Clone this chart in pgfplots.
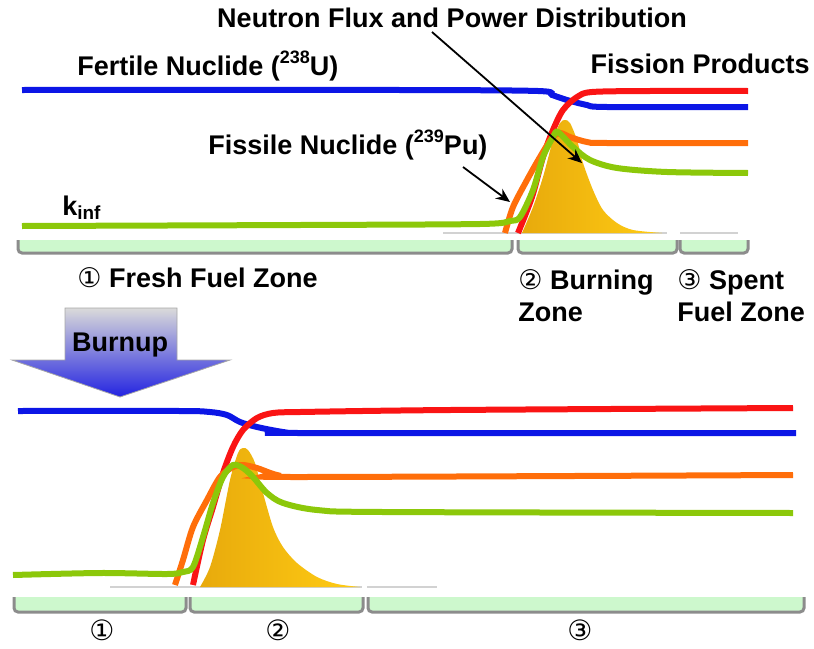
\documentclass[border=0pt]{standalone}
\usepackage{pgfplots}
\pgfplotsset{compat=1.18}
\usetikzlibrary{arrows.meta}
\usepackage{fontspec}
\setmainfont{Liberation Sans}
\newfontfamily\sym{DejaVu Sans}

\definecolor{cblue}{RGB}{12,22,230}
\definecolor{cred}{RGB}{250,20,20}
\definecolor{corange}{RGB}{255,110,10}
\definecolor{cgreen}{RGB}{140,200,10}
\definecolor{ydark}{RGB}{232,170,12}
\definecolor{ylight}{RGB}{255,204,20}
\definecolor{boxfill}{RGB}{205,248,205}
\definecolor{boxline}{RGB}{140,140,140}

\tikzset{
  curve/.style={line width=3pt, smooth, tension=0.5},
  zbox/.style={fill=boxfill, draw=none},
  zedge/.style={boxline, line width=1.5pt, rounded corners=2pt},
  lbl/.style={font=\fontsize{13.5}{16}\selectfont\bfseries, inner sep=0pt},
  num/.style={font=\sym\fontsize{14}{16}\selectfont, inner sep=0pt},
}
\newcommand{\iso}[1]{\raisebox{0.45em}{\fontsize{9}{10}\selectfont #1}}

\begin{document}
\begin{tikzpicture}
\begin{axis}[
  scale only axis, width=407pt, height=324pt,
  xmin=0, xmax=814, ymin=0, ymax=648, y dir=reverse,
  hide axis, clip=false,
]
\addplot[draw=none] coordinates {(0,0) (814,648)};

% ---------- upper panel ----------
% zone boxes
\addplot[zbox] coordinates {(18,240) (512,240) (512,253) (18,253)} --cycle;
\addplot[zbox] coordinates {(518,240) (677,240) (677,253) (518,253)} --cycle;
\addplot[zbox] coordinates {(680,240) (748,240) (748,253) (680,253)} --cycle;
\addplot[zedge] coordinates {(18,240) (18,253) (512,253) (512,240)};
\addplot[zedge] coordinates {(518,240) (518,253) (677,253) (677,240)};
\addplot[zedge] coordinates {(680,240) (680,253) (748,253) (748,240)};
\addplot[gray!35, line width=0.7pt] coordinates {(443,233) (667,233)};
\addplot[gray!35, line width=0.7pt] coordinates {(680,233) (738,233)};

% power distribution
\addplot[draw=none, left color=ydark, right color=ylight, smooth, tension=0.5]
  coordinates {(522,233) (533,207) (543,177) (553,140) (560,123) (565,120)
               (570,123) (577,140) (583,163) (593,190) (603,210) (617,223)
               (633,230) (662,233)} --cycle;

\addplot[curve, cblue] coordinates {(22,90) (400,90) (538,91) (552,95) (567,100)
  (587,105) (607,107) (748,107)};
\addplot[curve, cred] coordinates {(518,233) (532,197) (543,157) (553,130)
  (563,110) (577,97) (592,92) (650,91) (748,91)};
\addplot[curve, corange] coordinates {(505,233) (513,207) (527,180) (540,157)
  (552,138) (560,133) (570,137) (587,142) (607,143) (748,143)};
\addplot[curve, cgreen] coordinates {(22,226) (300,225) (480,224) (510,221)
  (520,217) (533,190) (543,157) (553,137) (558,132) (573,147) (590,160)
  (617,168) (667,172) (748,173)};

% ---------- lower panel ----------
\addplot[zbox] coordinates {(14,597) (186,597) (186,612) (14,612)} --cycle;
\addplot[zbox] coordinates {(190,597) (363,597) (363,612) (190,612)} --cycle;
\addplot[zbox] coordinates {(368,597) (804,597) (804,612) (368,612)} --cycle;
\addplot[zedge] coordinates {(14,597) (14,612) (186,612) (186,597)};
\addplot[zedge] coordinates {(190,597) (190,612) (363,612) (363,597)};
\addplot[zedge] coordinates {(368,597) (368,612) (804,612) (804,597)};
\addplot[gray!35, line width=0.7pt] coordinates {(110,587) (362,587)};
\addplot[gray!35, line width=0.7pt] coordinates {(367,587) (437,587)};

\addplot[draw=none, left color=ydark, right color=ylight, smooth, tension=0.5]
  coordinates {(200,587) (210,567) (220,530) (230,480) (238,453) (243,448)
               (248,450) (255,463) (263,493) (273,527) (283,547) (297,563)
               (317,577) (337,584) (360,587)} --cycle;

\addplot[curve, cblue] coordinates {(18,411) (180,411) (210,412) (227,415)
  (240,422) (257,427) (283,432) (300,433) (796,433)};
\addplot[curve, cred] coordinates {(193,585) (203,540) (213,507) (223,473)
  (233,447) (243,430) (257,418) (273,413) (300,412) (450,410) (793,408)};
\addplot[curve, corange] coordinates {(175,585) (183,560) (193,527) (207,500)
  (220,477) (233,467) (243,465) (257,468) (277,475) (300,477) (793,475)};
\addplot[curve, cgreen] coordinates {(13,575) (100,573) (167,574) (183,572)
  (193,567) (203,537) (213,503) (223,477) (233,465) (243,468) (253,477)
  (267,493) (283,503) (317,510) (383,512) (793,513)};

% burnup arrow
\addplot[draw=gray!70, line width=0.4pt, top color={rgb,255:red,218;green,218;blue,218},
  middle color={rgb,255:red,150;green,160;blue,250}, bottom color={rgb,255:red,35;green,35;blue,225}]
  coordinates {(65,308) (177,308) (177,360) (230,360) (120,397) (12,360) (65,360)} --cycle;

% ---------- texts and pointers ----------
\node[lbl, anchor=center] at (axis cs:452,18) {Neutron Flux and Power Distribution};
\node[lbl, anchor=west] at (axis cs:77,66) {Fertile Nuclide (\iso{238}U)};
\node[lbl, anchor=east] at (axis cs:810,64) {Fission Products};
\node[lbl, anchor=west] at (axis cs:208,145) {Fissile Nuclide (\iso{239}Pu)};
\node[lbl, anchor=west] at (axis cs:62,208) {k\textsubscript{inf}};
\node[lbl, anchor=west] at (axis cs:77,278) {{\sym\mdseries ①} Fresh Fuel Zone};
\node[lbl, anchor=west, align=left] at (axis cs:518,296) {{\sym\mdseries ②} Burning\\Zone};
\node[lbl, anchor=west, align=left] at (axis cs:677,296) {{\sym\mdseries ③} Spent\\Fuel Zone};
\node[lbl, anchor=center] at (axis cs:120,345) {Burnup};
\node[num] at (axis cs:102,630) {①};
\node[num] at (axis cs:278,630) {②};
\node[num] at (axis cs:580,630) {③};

\draw[line width=0.9pt, -{Stealth[length=7pt, width=6pt]}] (axis cs:432,32) -- (axis cs:582,163);
\draw[line width=0.9pt, -{Stealth[length=7pt, width=6pt]}] (axis cs:463,167) -- (axis cs:510,202);
\end{axis}
\end{tikzpicture}
\end{document}
